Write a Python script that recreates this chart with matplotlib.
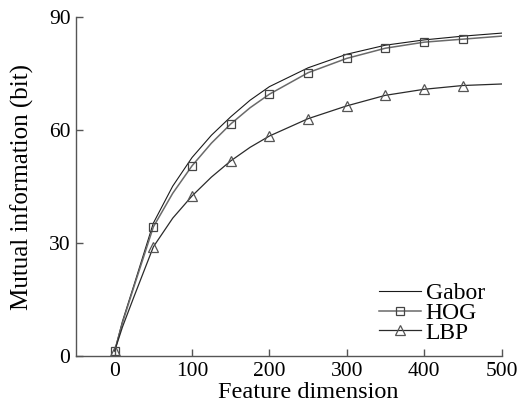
import matplotlib
matplotlib.use("Agg")
import matplotlib.pyplot as plt

dims = [0, 10, 25, 50, 75, 100, 125, 150, 175, 200, 250, 300, 350, 400, 450, 500]
gabor = [1.5, 9.3, 19.0, 35.4, 45.2, 52.8, 58.7, 63.6, 68.0, 71.6, 76.6, 80.2, 82.6, 84.0, 85.0, 85.8]
hog = [1.5, 8.9, 18.6, 34.4, 43.3, 50.6, 56.6, 61.7, 66.0, 69.6, 75.3, 79.1, 81.8, 83.4, 84.2, 85.0]
lbp = [1.5, 7.8, 15.9, 29.1, 36.7, 42.6, 47.6, 51.9, 55.5, 58.5, 63.1, 66.5, 69.3, 70.9, 71.9, 72.3]
marker_dims = [0, 50, 100, 150, 200, 250, 300, 350, 400, 450]
xticks = [0, 100, 200, 300, 400, 500]
yticks = [0, 30, 60, 90]

plt.rcParams['font.family'] = ['Liberation Serif', 'DejaVu Serif']
plt.rcParams['font.size'] = 15.5

fig = plt.figure(figsize=(5.22, 4.05), dpi=100)
ax = fig.add_axes([0.1456, 0.1198, 0.8152, 0.8375])

mk = [i for i, d in enumerate(dims) if d in marker_dims]

ax.plot(dims, gabor, color='#1a1a1a', lw=0.8, label='Gabor')
ax.plot(dims, hog, color='#6a6a6a', lw=1.1, marker='s', markersize=6,
        markerfacecolor='none', markeredgecolor='#444444', markeredgewidth=0.9,
        markevery=mk, label='HOG')
ax.plot(dims, lbp, color='#2a2a2a', lw=0.9, marker='^', markersize=6.5,
        markerfacecolor='none', markeredgecolor='#555555', markeredgewidth=0.9,
        markevery=mk, label='LBP')

ax.set_xlim(-50, 500)
ax.set_ylim(0, 90)
ax.set_xticks(xticks)
ax.set_yticks(yticks)
for s in ['top', 'right']:
    ax.spines[s].set_visible(False)
for s in ['left', 'bottom']:
    ax.spines[s].set_color('#555555')
    ax.spines[s].set_linewidth(1.0)
ax.tick_params(direction='in', length=5, width=1.0, color='#555555', pad=4)

ax.set_xlabel('Feature dimension', fontsize=17.5, labelpad=2.6)
ax.xaxis.set_label_coords(0.545, -0.075)
ax.set_ylabel('Mutual information (bit)', fontsize=18, labelpad=11)

ax.legend(loc='lower right', bbox_to_anchor=(1.011, -0.025), frameon=False,
          handlelength=1.8, handletextpad=0.2, labelspacing=-0.07, fontsize=17)

fig.savefig('out.png', dpi=100)
